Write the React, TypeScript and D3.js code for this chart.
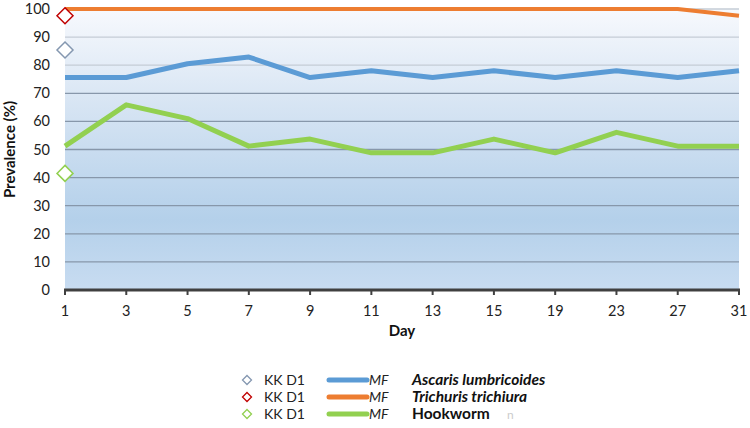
import React from "react";
import * as d3 from "d3";

const days = ["1", "3", "5", "7", "9", "11", "13", "15", "19", "23", "27", "31"];
const ascarisMF = [75.6, 75.6, 80.5, 82.9, 75.6, 78.0, 75.6, 78.0, 75.6, 78.0, 75.6, 78.0];
const trichurisMF = [100, 100, 100, 100, 100, 100, 100, 100, 100, 100, 100, 97.6];
const hookwormMF = [51.2, 65.9, 61.0, 51.2, 53.7, 48.8, 48.8, 53.7, 48.8, 56.1, 51.2, 51.2];
const kkD1 = [85.4, 97.6, 41.5];
const yTicks = [0, 10, 20, 30, 40, 50, 60, 70, 80, 90, 100];
const speciesNames = ["Ascaris lumbricoides", "Trichuris trichiura", "Hookworm"];
const lineColors = ["#5b9bd5", "#ed7d31", "#92d050"];
const diamondColors = ["#8497b0", "#c00000", "#92d050"];

const W = 750, H = 428;
const left = 65, right = 739, top = 9, bottom = 290;
const font = "Lato, 'Open Sans', sans-serif";

export default function App() {
  const x = d3.scalePoint<string>().domain(days).range([left, right]);
  const y = d3.scaleLinear().domain([0, 100]).range([bottom, top]);
  const line = d3
    .line<number>()
    .x((_, i) => x(days[i]) as number)
    .y((d) => y(d));
  const series = [ascarisMF, trichurisMF, hookwormMF];
  const diamond = (cx: number, cy: number, r: number) =>
    `M${cx},${cy - r}L${cx + r},${cy}L${cx},${cy + r}L${cx - r},${cy}Z`;

  return (
    <svg width={W} height={H} style={{ position: "absolute", left: 0, top: 0 }}>
      <defs>
        <linearGradient id="bg" x1="0" y1="0" x2="0" y2="1">
          <stop offset="0" stopColor="#f7f9fd" />
          <stop offset="0.35" stopColor="#d6e4f3" />
          <stop offset="0.75" stopColor="#b4d0ea" />
          <stop offset="1" stopColor="#c8dcf1" />
        </linearGradient>
      </defs>
      <rect width={W} height={H} fill="#fff" />
      <rect x={left} y={top} width={right - left} height={bottom - top} fill="url(#bg)" />
      {yTicks.slice(1).map((t) => (
        <line key={t} x1={left} x2={right} y1={y(t)} y2={y(t)} stroke={t >= 80 ? "#c5ccd6" : "#8797aa"} strokeWidth={1.3} />
      ))}
      {yTicks.map((t) => (
        <text key={t} x={50} y={y(t) + 5} textAnchor="end" fontFamily={font} fontSize={14.5} fill="#222">
          {t}
        </text>
      ))}
      <line x1={left - 1} x2={right + 1} y1={bottom} y2={bottom} stroke="#404040" strokeWidth={3} />
      {days.map((d) => (
        <g key={d}>
          <line x1={x(d)} x2={x(d)} y1={bottom} y2={bottom + 5} stroke="#404040" strokeWidth={2} />
          <text x={x(d)} y={bottom + 26} textAnchor="middle" fontFamily={font} fontSize={14.5} fill="#222">
            {d}
          </text>
        </g>
      ))}
      <text x={402} y={336} textAnchor="middle" fontFamily={font} fontSize={15} fontWeight="bold" fill="#111">
        Day
      </text>
      <text transform={`translate(15,${(top + bottom) / 2}) rotate(-90)`} textAnchor="middle" fontFamily={font} fontSize={15} fontWeight="bold" fill="#111">
        Prevalence (%)
      </text>
      {series.map((s, i) => (
        <path key={i} d={line(s) || ""} fill="none" stroke={lineColors[i]} strokeWidth={i === 1 ? 4 : 5} strokeLinejoin="round" />
      ))}
      {kkD1.map((v, i) => (
        <path key={i} d={diamond(x(days[0]) as number, y(v), 8)} fill="#fff" stroke={diamondColors[i]} strokeWidth={1.5} />
      ))}
      {speciesNames.map((name, i) => {
        const ly = 380 + i * 17;
        return (
          <g key={name}>
            <path d={diamond(247, ly, 4.5)} fill="#fff" stroke={diamondColors[i]} strokeWidth={1.3} />
            <text x={264} y={ly + 5} fontFamily={font} fontSize={14} fill="#222">KK D1</text>
            <line x1={329} x2={367} y1={ly} y2={ly} stroke={lineColors[i]} strokeWidth={5} strokeLinecap="round" />
            <text x={369} y={ly + 5} fontFamily={font} fontSize={14} fontStyle="italic" fill="#222">MF</text>
            <text x={412} y={ly + 5} fontFamily={font} fontSize={15.5} fontWeight="bold" fontStyle={i < 2 ? "italic" : "normal"} fill="#111">
              {name}
            </text>
          </g>
        );
      })}
      <text x={507} y={419} fontFamily={font} fontSize={12} fill="#ccc">n</text>
    </svg>
  );
}
